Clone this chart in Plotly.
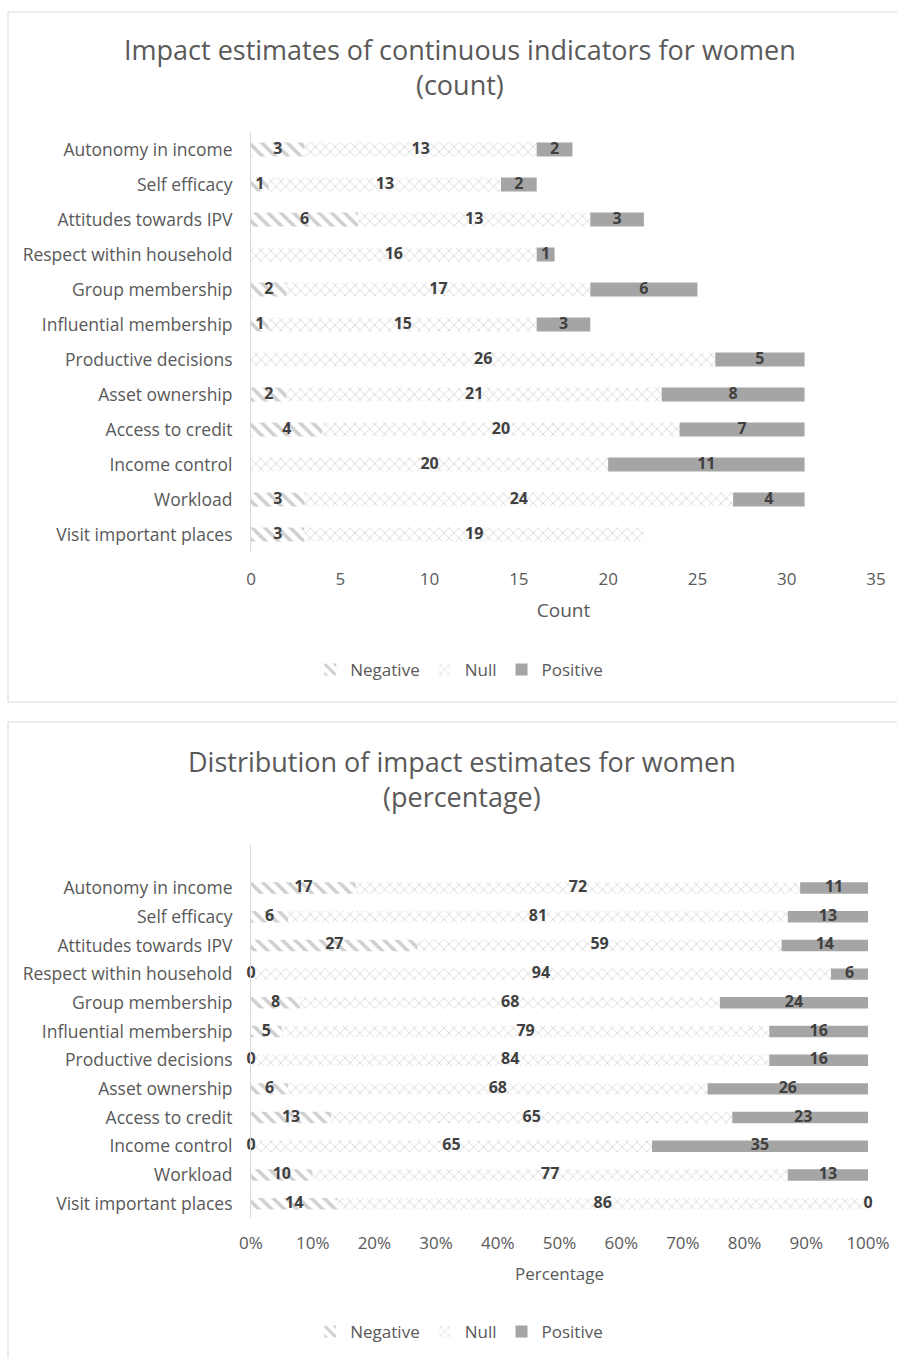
import plotly.graph_objects as go

# Indicators, listed top to bottom
categories = [
    "Autonomy in income", "Self efficacy", "Attitudes towards IPV",
    "Respect within household", "Group membership", "Influential membership",
    "Productive decisions", "Asset ownership", "Access to credit",
    "Income control", "Workload", "Visit important places",
]

# Counts of impact estimates
count_negative = [3, 1, 6, 0, 2, 1, 0, 2, 4, 0, 3, 3]
count_null = [13, 13, 13, 16, 17, 15, 26, 21, 20, 20, 24, 19]
count_positive = [2, 2, 3, 1, 6, 3, 5, 8, 7, 11, 4, 0]

# Percentage distribution of impact estimates
pct_negative = [17, 6, 27, 0, 8, 5, 0, 6, 13, 0, 10, 14]
pct_null = [72, 81, 59, 94, 68, 79, 84, 68, 65, 65, 77, 86]
pct_positive = [11, 13, 14, 6, 24, 16, 16, 26, 23, 35, 13, 0]

pct_ticks = [0, 10, 20, 30, 40, 50, 60, 70, 80, 90, 100]
pct_ticklabels = [f"{t}%" for t in pct_ticks]

FONT = "Open Sans"
TEXT = "#595959"
LABEL = "#404040"
W, H = 897, 1358

series_style = {
    "Negative": dict(color="white", pattern=dict(shape="\\", fgcolor="#a0a0a0", bgcolor="white",
                                                 size=9, solidity=0.4, fillmode="overlay")),
    "Null": dict(color="white", pattern=dict(shape="x", fgcolor="#acacac", bgcolor="white",
                                             size=7, solidity=0.22, fillmode="overlay")),
    "Positive": dict(color="#a5a5a5"),
}

fig = go.Figure()


def add_panel(neg, nul, pos, xa, ya, legend, show_zero):
    parts = [("Negative", neg), ("Null", nul), ("Positive", pos)]
    base = [0] * len(categories)
    for name, vals in parts:
        fig.add_trace(go.Bar(
            y=categories, x=vals, base=base, orientation="h", name=name,
            marker=dict(line=dict(width=0), **series_style[name]),
            xaxis=xa, yaxis=ya, legend=legend, hoverinfo="skip",
        ))
        mids, texts, ys = [], [], []
        for c, b, v in zip(categories, base, vals):
            if v == 0 and not show_zero:
                continue
            mids.append(b + v / 2)
            texts.append(str(v))
            ys.append(c)
        fig.add_trace(go.Scatter(
            x=mids, y=ys, mode="text", text=texts, showlegend=False, cliponaxis=False,
            textfont=dict(family=FONT, size=16, color=LABEL, weight="bold"),
            xaxis=xa, yaxis=ya, hoverinfo="skip",
        ))
        base = [b + v for b, v in zip(base, vals)]


add_panel(count_negative, count_null, count_positive, "x", "y", "legend", False)
add_panel(pct_negative, pct_null, pct_positive, "x2", "y2", "legend2", True)


def py(pix):
    return 1 - pix / H


def px(pix):
    return pix / W


axis_font = dict(family=FONT, size=17, color=TEXT)
cat_font = dict(family=FONT, size=17.5, color=TEXT)

fig.update_layout(
    template="none",
    width=W, height=H, margin=dict(l=0, r=0, t=0, b=0, autoexpand=False),
    paper_bgcolor="white", plot_bgcolor="white",
    barmode="overlay", bargap=0.6,
    font=dict(family=FONT, color=TEXT),
    xaxis=dict(domain=[px(251), px(876)], range=[0, 35], dtick=5, showgrid=False,
               zeroline=False, showline=False, tickfont=axis_font, ticklabelstandoff=15, ticks="",
               title=dict(text="Count", font=dict(family=FONT, size=19, color=TEXT), standoff=14),
               anchor="y", fixedrange=True, automargin=False),
    yaxis=dict(domain=[py(552), py(132)], categoryorder="array", categoryarray=categories,
               range=[11.5, -0.5], showgrid=False, zeroline=False, showline=True,
               linecolor="#d9d9d9", linewidth=1, tickfont=cat_font, ticks="",
               ticklabelstandoff=14, anchor="x", fixedrange=True, automargin=False),
    xaxis2=dict(domain=[px(251), px(868)], range=[0, 100], tickvals=pct_ticks,
                ticktext=pct_ticklabels, showgrid=False, zeroline=False, showline=False,
                tickfont=axis_font, ticklabelstandoff=13, ticks="",
                title=dict(text="Percentage", font=dict(family=FONT, size=17, color=TEXT), standoff=15),
                anchor="y2", fixedrange=True, automargin=False),
    yaxis2=dict(domain=[py(1218), py(845)], categoryorder="array", categoryarray=categories,
                range=[11.5, -1.5], showgrid=False, zeroline=False, showline=True,
                linecolor="#d9d9d9", linewidth=1, tickfont=cat_font, ticks="",
                ticklabelstandoff=14, anchor="x2", fixedrange=True, automargin=False),
    legend=dict(orientation="h", x=0.512, xanchor="center", y=py(670), yanchor="middle",
                font=dict(family=FONT, size=17, color=TEXT), itemwidth=30, traceorder="normal",
                bgcolor="rgba(0,0,0,0)"),
    legend2=dict(orientation="h", x=0.512, xanchor="center", y=py(1332), yanchor="middle",
                 font=dict(family=FONT, size=17, color=TEXT), itemwidth=30, traceorder="normal",
                 bgcolor="rgba(0,0,0,0)"),
    showlegend=True,
)

# Chart frames
fig.add_shape(type="rect", xref="paper", yref="paper", x0=px(8), x1=px(897) + 0.01,
              y0=py(702), y1=py(12), line=dict(color="#d9d9d9", width=1), layer="below")
fig.add_shape(type="rect", xref="paper", yref="paper", x0=px(8), x1=px(897) + 0.01,
              y0=py(1358) - 0.01, y1=py(722), line=dict(color="#d9d9d9", width=1), layer="below")

# Chart titles
title_font = dict(family=FONT, size=27, color=TEXT)
fig.add_annotation(text="Impact estimates of continuous indicators for women<br>(count)",
                   xref="paper", yref="paper", x=px(460), y=py(67), showarrow=False,
                   font=title_font, align="center", yanchor="middle")
fig.add_annotation(text="Distribution of impact estimates for women<br>(percentage)",
                   xref="paper", yref="paper", x=px(462), y=py(779), showarrow=False,
                   font=title_font, align="center", yanchor="middle")

fig.write_html("out.html")
